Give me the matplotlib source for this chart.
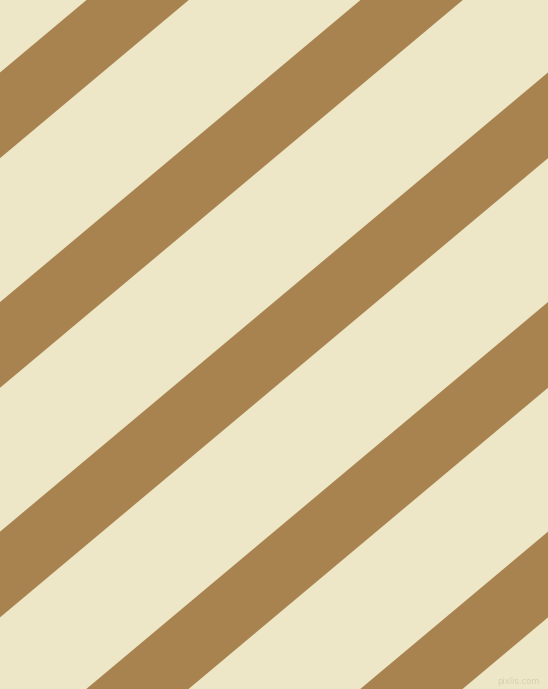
import numpy as np
import matplotlib.pyplot as plt

# stripe layout, read in picture pixels (y measured down from the top)
stripe_starts = [-157.1, 72.5, 302.1, 531.7, 761.3, 990.9]  # top edge where it meets x=0
stripe_height = 85.7   # vertical thickness of a stripe
slope = 0.838          # rise per pixel to the right (about 40 degrees)
bg_color = '#EDE7C8'
stripe_color = '#A8834F'

W, H = 548, 689

def main():
  fig = plt.figure(figsize=(W / 100, H / 100), dpi=100)
  ax = fig.add_axes([0, 0, 1, 1])
  ax.set_facecolor(bg_color)
  x = np.array([0, W])
  for b in stripe_starts:
    top = b - slope * x
    ax.fill_between(x, top, top + stripe_height, color=stripe_color, lw=0)
  ax.text(540, 681, 'pixlis.com', fontsize=6, color='#D6D0B0',
          ha='right', va='center')
  ax.set_xlim(0, W)
  ax.set_ylim(H, 0)
  ax.axis('off')
  fig.patch.set_facecolor(bg_color)
  fig.savefig('out.png', dpi=100, facecolor=bg_color)

main()
